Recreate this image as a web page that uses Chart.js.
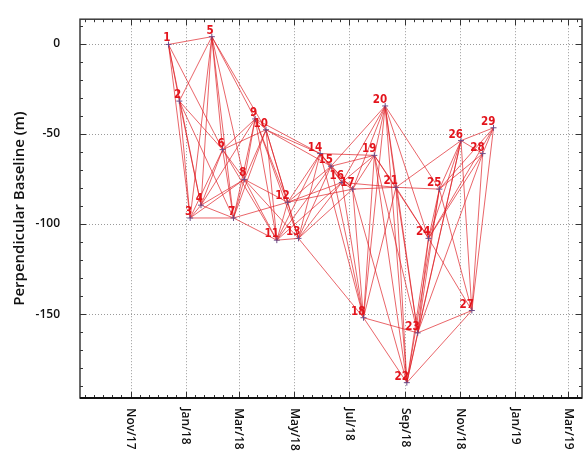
<!DOCTYPE html>
<html>
<head>
<meta charset="utf-8">
<script src="https://cdn.jsdelivr.net/npm/chart.js@4.4.1/dist/chart.umd.min.js"></script>
<style>
  html, body { margin: 0; padding: 0; background: #fff; }
  #wrap { width: 587px; height: 456px; }
</style>
</head>
<body>
<div id="wrap"><canvas id="graficoBaseline" width="587" height="456"></canvas></div>
<script>
// fechas de adquisicion (1..29) y baseline perpendicular (m)
const fechas = [
  '2017-12-13', '2017-12-25', '2018-01-06', '2018-01-18', '2018-01-30',
  '2018-02-11', '2018-02-23', '2018-03-07', '2018-03-19', '2018-03-31',
  '2018-04-12', '2018-04-24', '2018-05-06', '2018-05-30', '2018-06-11',
  '2018-06-23', '2018-07-05', '2018-07-17', '2018-07-29', '2018-08-10',
  '2018-08-22', '2018-09-03', '2018-09-15', '2018-09-27', '2018-10-09',
  '2018-11-02', '2018-11-14', '2018-11-26', '2018-12-08'
];
const baselines = [
  -0.5, -31.9, -96.7, -89.6, 3.8,
  -58.8, -96.7, -75.3, -41.8, -47.8,
  -109, -88, -108, -61, -68,
  -77, -80.7, -152, -62, -34.6,
  -79.7, -188, -160.4, -108, -80.7,
  -53.8, -148, -61, -46.7
];
// pares del grafo: [origen, [destinos]]
const enlaces = [
  [1, [2, 3, 4, 5, 6]],
  [2, [3, 4, 5, 6, 7]],
  [3, [4, 5, 6, 7, 8]],
  [4, [5, 6, 7, 8, 9]],
  [5, [6, 7, 8, 9, 10]],
  [6, [7, 8, 9, 10, 11]],
  [7, [8, 9, 10, 11, 12]],
  [8, [9, 10, 11, 12, 13]],
  [9, [10, 11, 12, 13, 14]],
  [10, [11, 12, 13, 14, 15]],
  [11, [12, 13, 14, 15, 16]],
  [12, [13, 14, 15, 16, 17]],
  [13, [14, 15, 16, 17, 18]],
  [14, [15, 16, 17, 18, 19]],
  [15, [16, 17, 18, 19, 20]],
  [16, [17, 18, 19, 20, 21]],
  [17, [18, 19, 20, 21, 22]],
  [18, [19, 20, 21, 22, 23]],
  [19, [20, 21, 22, 23, 24]],
  [20, [21, 22, 23, 24, 25]],
  [21, [22, 23, 24, 25, 26]],
  [22, [23, 24, 25, 26, 27]],
  [23, [24, 25, 26, 27, 28]],
  [24, [25, 26, 27, 28, 29]],
  [25, [26, 27, 28, 29]],
  [26, [27, 28, 29]],
  [27, [28, 29]],
  [28, [29]]
];
const marcasX = ['2017-11-01', '2018-01-01', '2018-03-01', '2018-05-01', '2018-07-01',
                 '2018-09-01', '2018-11-01', '2019-01-01', '2019-03-01'];
const etiquetasX = ['Nov/17', 'Jan/18', 'Mar/18', 'May/18', 'Jul/18',
                    'Sep/18', 'Nov/18', 'Jan/19', 'Mar/19'];
const marcasY = [-150, -100, -50, 0];
const rangoX = ['2017-09-06', '2019-03-16'];
const rangoY = [-196.5, 13.5];

const dia = s => Date.UTC(+s.slice(0, 4), +s.slice(5, 7) - 1, +s.slice(8, 10)) / 86400000;

const puntos = fechas.map((f, i) => ({ x: dia(f), y: baselines[i] }));

const datasets = [{
  label: 'adquisiciones',
  data: puntos,
  pointStyle: 'cross',
  pointRadius: 3,
  pointBorderColor: '#6d4b86',
  pointBorderWidth: 1,
  showLine: false,
  order: 0
}];
enlaces.forEach(([a, destinos]) => {
  destinos.forEach(b => {
    datasets.push({
      data: [puntos[a - 1], puntos[b - 1]],
      showLine: true,
      borderColor: 'rgba(222, 28, 34, 0.68)',
      borderWidth: 1,
      pointRadius: 0,
      order: 1
    });
  });
});

// marcas menores del eje x: dias 1, 11 y 21 de cada mes
const menoresX = [];
for (let m = 8; m <= 27; m++) {
  [1, 11, 21].forEach(d => menoresX.push(Date.UTC(2017, m, d) / 86400000));
}

const marco = {
  id: 'marco',
  beforeDatasetsDraw(chart) {
    const { ctx, chartArea: a, scales: { x, y } } = chart;
    ctx.save();
    ctx.strokeStyle = '#9a9a9a';
    ctx.lineWidth = 1;
    ctx.setLineDash([1, 2]);
    ctx.beginPath();
    marcasX.forEach(m => {
      const px = Math.round(x.getPixelForValue(dia(m))) + 0.5;
      ctx.moveTo(px, a.top); ctx.lineTo(px, a.bottom);
    });
    marcasY.forEach(v => {
      const py = Math.round(y.getPixelForValue(v)) + 0.5;
      ctx.moveTo(a.left, py); ctx.lineTo(a.right, py);
    });
    ctx.stroke();
    ctx.restore();
  },
  afterDatasetsDraw(chart) {
    const { ctx, chartArea: a, scales: { x, y } } = chart;
    ctx.save();
    // etiquetas de los puntos
    ctx.font = 'bold 11.5px "Liberation Sans Narrow", "DejaVu Sans Condensed", sans-serif';
    ctx.fillStyle = '#e3141c';
    ctx.textAlign = 'right';
    ctx.textBaseline = 'alphabetic';
    puntos.forEach((p, i) => {
      ctx.fillText(String(i + 1), x.getPixelForValue(p.x) + 2, y.getPixelForValue(p.y) - 3);
    });

    // marcas
    ctx.strokeStyle = '#333';
    ctx.lineWidth = 1;
    ctx.beginPath();
    menoresX.forEach(v => {
      if (v < x.min || v > x.max) return;
      const px = Math.round(x.getPixelForValue(v)) + 0.5;
      ctx.moveTo(px, a.bottom); ctx.lineTo(px, a.bottom - 3);
      ctx.moveTo(px, a.top); ctx.lineTo(px, a.top + 3);
    });
    marcasX.forEach(m => {
      const px = Math.round(x.getPixelForValue(dia(m))) + 0.5;
      ctx.moveTo(px, a.bottom); ctx.lineTo(px, a.bottom - 6);
      ctx.moveTo(px, a.top); ctx.lineTo(px, a.top + 6);
    });
    for (let v = -190; v <= 10; v += 10) {
      const py = Math.round(y.getPixelForValue(v)) + 0.5;
      const len = v % 50 === 0 ? 6 : 3;
      ctx.moveTo(a.left, py); ctx.lineTo(a.left + len, py);
      ctx.moveTo(a.right, py); ctx.lineTo(a.right - len, py);
    }
    ctx.stroke();

    // marco
    ctx.strokeStyle = '#3a3a3a';
    ctx.lineWidth = 1.5;
    ctx.strokeRect(a.left, a.top, a.right - a.left, a.bottom - a.top);
    ctx.strokeStyle = '#111';
    ctx.lineWidth = 2;
    ctx.beginPath();
    ctx.moveTo(a.left, a.bottom); ctx.lineTo(a.right, a.bottom);
    ctx.stroke();

    // etiquetas del eje x, giradas
    ctx.font = '600 12px "Open Sans", sans-serif';
    ctx.fillStyle = '#111';
    ctx.textAlign = 'left';
    ctx.textBaseline = 'middle';
    marcasX.forEach((m, i) => {
      const px = x.getPixelForValue(dia(m));
      ctx.save();
      ctx.translate(px, a.bottom + 10);
      ctx.rotate(Math.PI / 2);
      ctx.fillText(etiquetasX[i], 0, 0);
      ctx.restore();
    });
    ctx.restore();
  }
};

const ctx = document.getElementById('graficoBaseline').getContext('2d');

const grafico = new Chart(ctx, {
  type: 'scatter',
  data: { datasets: datasets },
  options: {
    responsive: false,
    animation: false,
    devicePixelRatio: 1,
    layout: { padding: { top: 15, right: 2, left: 0, bottom: 0 } },
    plugins: {
      legend: { display: false },
      tooltip: { enabled: false }
    },
    scales: {
      x: {
        type: 'linear',
        min: dia(rangoX[0]),
        max: dia(rangoX[1]),
        grid: { display: false },
        border: { display: false },
        ticks: { display: false },
        afterFit(scale) { scale.height = 58; }
      },
      y: {
        type: 'linear',
        min: rangoY[0],
        max: rangoY[1],
        grid: { display: false },
        border: { display: false },
        afterBuildTicks(scale) { scale.ticks = marcasY.map(v => ({ value: v })); },
        afterFit(scale) { scale.width = 80; },
        ticks: {
          padding: 12,
          color: '#111',
          font: { family: '"Open Sans", sans-serif', size: 12, weight: '600' }
        },
        title: {
          display: true,
          text: 'Perpendicular Baseline (m)',
          color: '#111',
          padding: { top: 11, bottom: 0 },
          font: { family: '"Open Sans", sans-serif', size: 15, weight: '600' }
        }
      }
    }
  },
  plugins: [marco]
});
</script>
</body>
</html>
